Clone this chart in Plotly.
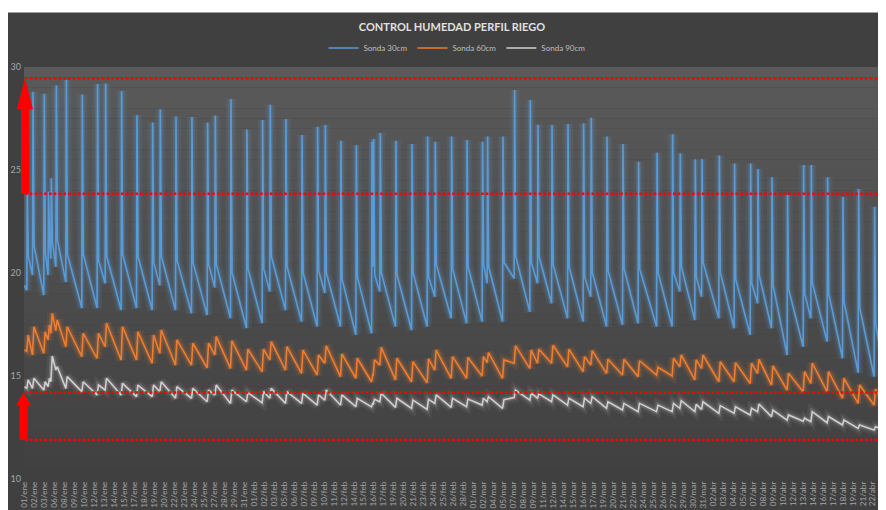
import plotly.graph_objects as go

# ---------------- DATA ----------------
etiquetas = [
    "01/ene", "02/ene", "03/ene", "06/ene", "08/ene", "09/ene", "10/ene", "12/ene", "13/ene", "14/ene",
    "15/ene", "17/ene", "18/ene", "19/ene", "20/ene", "22/ene", "23/ene", "24/ene", "25/ene", "27/ene",
    "28/ene", "29/ene", "31/ene", "01/feb", "02/feb", "03/feb", "05/feb", "06/feb", "07/feb", "09/feb",
    "10/feb", "11/feb", "12/feb", "14/feb", "15/feb", "16/feb", "17/feb", "19/feb", "20/feb", "21/feb",
    "23/feb", "24/feb", "25/feb", "26/feb", "28/feb", "01/mar", "02/mar", "04/mar", "05/mar", "07/mar",
    "08/mar", "09/mar", "11/mar", "12/mar", "14/mar", "15/mar", "16/mar", "17/mar", "19/mar", "20/mar",
    "21/mar", "22/mar", "24/mar", "25/mar", "26/mar", "27/mar", "29/mar", "30/mar", "31/mar", "02/abr",
    "03/abr", "04/abr", "05/abr", "07/abr", "08/abr", "09/abr", "10/abr", "12/abr", "13/abr", "14/abr",
    "16/abr", "17/abr", "18/abr", "19/abr", "21/abr", "22/abr", "23/abr",
]

# irrigation events: position on the category axis (in label slots)
riego_pos = [
    0.25, 0.82, 1.95, 2.38, 2.66, 3.16, 4.16, 5.76, 7.29, 8.10,
    9.70, 11.24, 12.81, 13.58, 15.15, 16.75, 18.32, 19.09, 20.66, 22.26,
    23.83, 24.60, 26.17, 27.78, 29.34, 30.11, 31.68, 33.22, 34.79, 34.95,
    35.62, 37.19, 38.80, 40.36, 41.13, 42.77, 44.31, 45.87, 46.37, 47.92,
    49.08, 50.65, 51.42, 52.83, 54.43, 55.99, 56.76, 58.34, 59.94, 61.50,
    63.35, 64.91, 65.68, 67.18, 67.86, 69.59, 71.12, 72.73, 73.47, 74.87,
    76.43, 78.04, 78.81, 80.44, 81.98, 83.55, 85.15,
]
pos_inicio = 0.0
pos_fin = 86.32

# Sonda 30cm
s30_inicio, s30_fin = 19.4, 14.6
s30_valle = [
    19.17, 19.9, 18.93, 19.9, 20.7, 20.3, 19.56, 18.3, 18.3, 19.5,
    18.2, 18.3, 18.2, 19.4, 18.2, 18.05, 17.96, 19.3, 17.8, 17.33,
    17.57, 19.1, 18.2, 17.64, 17.4, 19.03, 17.4, 17.0, 17.07, 20.3,
    19.1, 17.4, 17.23, 17.4, 18.85, 17.8, 17.56, 17.64, 19.5, 17.64,
    19.74, 18.12, 19.5, 18.53, 17.8, 17.64, 18.85, 17.4, 17.48, 17.56,
    17.4, 17.4, 19.1, 17.72, 18.85, 17.8, 17.32, 17.0, 18.53, 17.32,
    16.02, 16.42, 17.8, 16.67, 15.86, 15.16, 14.97,
]
s30_pico = [
    24.0, 28.8, 28.7, 23.95, 24.6, 29.1, 29.37, 28.67, 29.17, 29.2,
    28.83, 27.67, 27.3, 27.95, 27.6, 27.57, 27.3, 27.65, 28.45, 26.97,
    27.43, 28.17, 27.48, 26.7, 27.1, 27.18, 26.42, 26.2, 26.37, 26.5,
    26.8, 26.42, 26.26, 26.62, 26.37, 26.62, 26.46, 26.37, 26.62, 26.62,
    28.88, 28.4, 27.2, 27.18, 27.23, 27.27, 27.54, 26.62, 26.26, 25.4,
    25.84, 26.73, 25.81, 25.52, 25.53, 25.7, 25.32, 25.32, 25.05, 24.65,
    23.79, 25.24, 25.24, 24.65, 23.7, 24.08, 23.22,
]
s30_codo = [
    20.8, 21.3, 21.0, 21.4, 21.5, 21.6, 20.9, 20.9, 20.6, 20.8,
    20.9, 20.8, 20.5, 20.8, 20.6, 20.5, 20.4, 20.4, 20.0, 20.2,
    20.2, 20.8, 20.3, 20.0, 20.1, 20.0, 19.7, 19.8, 20.5, 19.9,
    20.0, 19.9, 20.0, 19.8, 20.4, 20.2, 20.3, 20.4, 20.3, 20.5,
    20.8, 20.5, 20.8, 20.4, 20.3, 19.8, 20.0, 20.1, 20.2, 20.2,
    20.0, 20.0, 20.3, 19.8, 20.5, 20.0, 19.7, 19.5, 19.9, 19.4,
    19.2, 19.0, 19.5, 19.0, 18.6, 18.3, 17.5,
]

# Sonda 60cm
s60_inicio, s60_fin = 16.26, 13.51
s60_valle = [
    16.2, 16.02, 16.1, 16.75, 17.07, 17.2, 16.42, 15.94, 15.86, 16.42,
    15.78, 15.78, 15.62, 16.1, 15.53, 15.53, 15.4, 16.02, 15.37, 15.29,
    15.21, 15.78, 15.29, 15.13, 15.05, 15.62, 14.97, 14.89, 14.72, 15.0,
    15.53, 14.81, 14.72, 14.67, 15.29, 14.89, 14.89, 15.0, 15.65, 14.89,
    15.62, 15.37, 15.62, 15.62, 15.45, 15.21, 15.53, 15.13, 15.05, 14.97,
    15.05, 15.0, 15.45, 14.81, 15.37, 14.72, 14.72, 14.64, 15.13, 14.56,
    14.32, 14.24, 14.64, 14.24, 13.92, 13.67, 13.59,
]
s60_pico = [
    16.99, 17.39, 17.15, 17.48, 18.04, 17.72, 17.39, 17.07, 17.07, 17.56,
    17.39, 17.15, 16.99, 17.23, 16.75, 16.59, 16.59, 16.91, 16.71, 16.3,
    16.3, 16.67, 16.42, 16.26, 16.02, 16.46, 16.07, 15.86, 15.1, 15.78,
    16.39, 15.86, 15.7, 15.83, 16.26, 15.94, 15.9, 15.94, 16.13, 15.78,
    16.46, 16.26, 16.3, 16.49, 16.3, 15.94, 16.23, 15.81, 15.81, 15.74,
    15.42, 15.86, 16.02, 15.78, 16.02, 15.7, 15.65, 15.62, 15.81, 15.49,
    15.13, 15.21, 15.62, 15.21, 14.89, 14.56, 14.35,
]

# Sonda 90cm
s90_inicio, s90_fin = 14.48, 12.35
s90_valle = [
    14.4, 14.4, 14.32, 14.48, 14.72, 15.29, 14.4, 14.24, 14.08, 14.32,
    14.08, 14.0, 14.0, 14.24, 13.92, 13.92, 13.75, 14.08, 13.67, 13.75,
    13.7, 13.92, 13.67, 13.67, 13.59, 13.83, 13.59, 13.51, 13.5, 13.6,
    13.75, 13.48, 13.43, 13.38, 13.67, 13.48, 13.51, 13.59, 13.75, 13.43,
    13.95, 13.83, 13.92, 13.75, 13.59, 13.51, 13.67, 13.43, 13.35, 13.27,
    13.27, 13.27, 13.43, 13.27, 13.38, 13.19, 13.19, 13.11, 13.27, 13.03,
    12.86, 12.8, 12.78, 12.73, 12.62, 12.46, 12.38,
]
s90_pico = [
    14.81, 14.89, 14.72, 14.89, 15.97, 15.45, 14.97, 14.72, 14.56, 14.89,
    14.64, 14.56, 14.56, 14.72, 14.48, 14.4, 14.32, 14.56, 14.32, 14.19,
    14.24, 14.4, 14.24, 14.16, 14.08, 14.32, 14.08, 13.92, 13.7, 13.87,
    14.16, 13.92, 13.83, 13.87, 14.08, 13.92, 13.88, 13.92, 14.0, 13.85,
    14.32, 14.16, 14.13, 14.08, 13.92, 13.92, 14.0, 13.75, 13.67, 13.67,
    13.59, 13.67, 13.8, 13.62, 13.75, 13.56, 13.51, 13.43, 13.64, 13.35,
    13.11, 12.95, 13.27, 13.03, 12.86, 12.62, 12.54,
]

# red reference levels (dotted lines)
lineas_rojas = [29.45, 23.85, 14.2, 11.9]

series = ["Sonda 30cm", "Sonda 60cm", "Sonda 90cm"]
y_ticks = [10, 15, 20, 25, 30]

# ---------------- LAYOUT CONSTANTS ----------------
W, H = 886, 510
OFF = 8                      # page offset of the figure inside the browser page
ML, MR, MT, MB = 16, 8, 59, 39
PW, PH = W - ML - MR, H - MT - MB
Y_MIN, Y_MAX = 10, 30


def build(inicio, valle, pico, fin, codo=None, subida=0.1):
    xs, ys = [pos_inicio], [inicio]
    for i, p in enumerate(riego_pos):
        xs.append(p - 0.02)
        ys.append(valle[i])
        xs.append(p + subida)
        ys.append(pico[i])
        if codo is not None:
            xs.append(p + subida + 0.11)
            ys.append(codo[i])
    xs.append(pos_fin)
    ys.append(fin)
    return xs, ys


colores = ["#5B9BD5", "#ED7D31", "#CFCFCF"]
glow = ["rgba(91,155,213,0.22)", "rgba(237,125,49,0.22)", "rgba(210,210,210,0.18)"]
glow2 = ["rgba(91,155,213,0.10)", "rgba(237,125,49,0.10)", "rgba(210,210,210,0.08)"]

datos = [
    build(s30_inicio, s30_valle, s30_pico, s30_fin, s30_codo, subida=0.03),
    build(s60_inicio, s60_valle, s60_pico, s60_fin, subida=0.12),
    build(s90_inicio, s90_valle, s90_pico, s90_fin, subida=0.12),
]

fig = go.Figure()
for k, (xs, ys) in enumerate(datos):
    fig.add_trace(go.Scatter(x=xs, y=ys, mode="lines", showlegend=False, hoverinfo="skip",
                             line=dict(color=glow2[k], width=10)))
    fig.add_trace(go.Scatter(x=xs, y=ys, mode="lines", showlegend=False, hoverinfo="skip",
                             line=dict(color=glow[k], width=5)))
    fig.add_trace(go.Scatter(x=xs, y=ys, mode="lines", name=series[k],
                             line=dict(color=colores[k], width=1.6)))


def pxx(px):          # page x pixel -> paper x
    return (px - OFF - ML) / PW


def pxy(py):          # page y pixel -> paper y
    return (H - MB - (py - OFF)) / PH


def vy(v):
    return (v - Y_MIN) / (Y_MAX - Y_MIN)


shapes = []
# plot-area vertical gradient
N = 40
top_c, bot_c = (90, 90, 90), (64, 64, 64)
for i in range(N):
    t = (i + 0.5) / N
    c = [round(top_c[j] + (bot_c[j] - top_c[j]) * t) for j in range(3)]
    shapes.append(dict(type="rect", xref="paper", yref="paper", x0=0, x1=1,
                       y0=1 - (i + 1) / N, y1=1 - i / N, layer="below",
                       line=dict(width=0), fillcolor="rgb(%d,%d,%d)" % tuple(c)))
# white strip at the top of the picture
shapes.append(dict(type="rect", xref="paper", yref="paper", x0=pxx(0), x1=pxx(W + 20),
                   y0=pxy(12.5), y1=pxy(OFF), layer="above", line=dict(width=0),
                   fillcolor="white"))
# dotted red lines
for v in lineas_rojas:
    shapes.append(dict(type="line", xref="paper", yref="y", x0=pxx(25), x1=pxx(900), y0=v, y1=v,
                       layer="above", line=dict(color="#FF0000", width=2.6, dash="2.6px,2.2px")))


def flecha(cx, v_tip, v_end, head_px, hh, sh, up=True):
    tip = vy(v_tip)
    end = vy(v_end)
    d = head_px / PH
    base = tip - d if up else tip + d
    x = pxx
    path = ("M {a},{e} L {a},{b} L {c},{b} L {t},{tp} L {f},{b} L {g},{b} L {g},{e} Z"
            .format(a=x(cx - sh), e=end, b=base, c=x(cx - hh), t=x(cx), tp=tip,
                    f=x(cx + hh), g=x(cx + sh)))
    return dict(type="path", xref="paper", yref="paper", path=path, layer="above",
                fillcolor="#FF0000", line=dict(width=0))


shapes.append(flecha(25, lineas_rojas[0], lineas_rojas[1], 31, 8, 4, up=True))
shapes.append(flecha(23.5, lineas_rojas[2], lineas_rojas[3], 13, 7.5, 4, up=True))
shapes.append(flecha(887, lineas_rojas[1], lineas_rojas[0], 31, 8, 4, up=False))
shapes.append(flecha(887, lineas_rojas[3], lineas_rojas[2], 13, 8, 4, up=False))

FONT = "Lato, Roboto, sans-serif"

fig.update_layout(
    width=W, height=H,
    margin=dict(l=ML, r=MR, t=MT, b=MB, pad=0),
    paper_bgcolor="#404040",
    plot_bgcolor="#404040",
    template="none",
    font=dict(family=FONT, color="#A6A6A6", size=9),
    title=dict(text="<b>CONTROL HUMEDAD PERFIL RIEGO</b>", x=(452 - OFF) / W, xanchor="center",
               y=1 - (27 - OFF) / H, yanchor="middle",
               font=dict(family=FONT, size=11, color="#E0E0E0")),
    legend=dict(orientation="h", x=pxx(457), xanchor="center", y=pxy(48), yanchor="middle",
                bgcolor="rgba(0,0,0,0)", font=dict(family=FONT, size=8, color="#BFBFBF"),
                itemwidth=30, tracegroupgap=0),
    xaxis=dict(range=[-0.05, pos_fin], tickmode="array",
               tickvals=list(range(len(etiquetas))), ticktext=etiquetas,
               tickangle=-90, showgrid=False, zeroline=False, showline=False,
               ticks="", automargin=False, fixedrange=True,
               tickfont=dict(family=FONT, size=8.2, color="#A6A6A6")),
    yaxis=dict(range=[Y_MIN, Y_MAX], tickmode="array", tickvals=y_ticks,
               showgrid=False, zeroline=False, showline=False, ticks="",
               automargin=False, ticklabelstandoff=2,
               tickfont=dict(family=FONT, size=9, color="#A6A6A6")),
    shapes=shapes,
    hovermode=False,
)

fig.write_html("out.html")
